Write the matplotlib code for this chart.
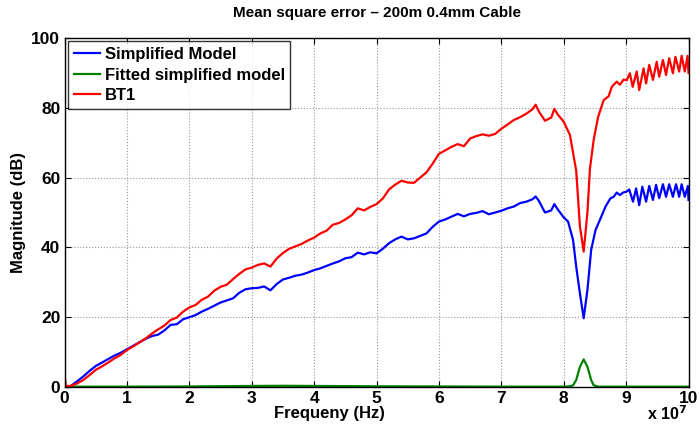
import numpy as np
import matplotlib.pyplot as plt

plt.rcParams['font.family'] = ['Liberation Sans', 'DejaVu Sans']
plt.rcParams['font.weight'] = 'bold'

# frequency in units of 1e7 Hz, magnitude in dB
x_simpl = [0, 0.05, 0.1, 0.2, 0.3, 0.4, 0.5, 0.6, 0.7, 0.8, 0.9,
           1.0, 1.1, 1.2, 1.3, 1.4, 1.5, 1.6, 1.7, 1.8, 1.9,
           2.0, 2.1, 2.2, 2.3, 2.4, 2.5, 2.6, 2.7, 2.8, 2.9,
           3.0, 3.1, 3.2, 3.3, 3.4, 3.5, 3.6, 3.7, 3.8, 3.9,
           4.0, 4.1, 4.2, 4.3, 4.4, 4.5, 4.6, 4.7, 4.8, 4.9,
           5.0, 5.1, 5.2, 5.3, 5.4, 5.5, 5.6, 5.7, 5.8, 5.9,
           6.0, 6.1, 6.2, 6.3, 6.4, 6.5, 6.6, 6.7, 6.8, 6.9,
           7.0, 7.1, 7.2, 7.3, 7.4, 7.5, 7.55, 7.6, 7.7, 7.8, 7.85, 7.9,
           8.0, 8.07, 8.15, 8.2, 8.26, 8.32, 8.38, 8.44, 8.51, 8.59, 8.67,
           8.75, 8.8, 8.85, 8.9, 8.95, 9.01,
           9.05, 9.11, 9.16, 9.21, 9.26, 9.32, 9.37, 9.43, 9.48, 9.53,
           9.59, 9.64, 9.69, 9.75, 9.80, 9.85, 9.89, 9.94, 9.99, 10.0]
y_simpl = [0.2, 0.0, 0.3, 1.6, 3.0, 4.6, 6.0, 7.0, 8.0, 9.0, 9.8,
           10.8, 11.8, 12.8, 13.8, 14.6, 15.0, 16.2, 17.8, 18.0, 19.4,
           20.0, 20.6, 21.6, 22.4, 23.3, 24.2, 24.8, 25.4, 27.0, 28.0,
           28.3, 28.4, 28.8, 27.7, 29.5, 30.8, 31.3, 31.9, 32.2, 32.8,
           33.5, 34.0, 34.7, 35.4, 36.0, 36.9, 37.2, 38.5, 38.0, 38.6,
           38.3, 39.6, 41.2, 42.3, 43.1, 42.3, 42.6, 43.3, 44.0, 45.9,
           47.4, 48.0, 48.8, 49.6, 48.9, 49.6, 49.9, 50.4, 49.5, 50.0,
           50.5, 51.2, 51.7, 52.7, 53.1, 53.8, 54.6, 53.4, 50.0, 50.6, 52.4, 51.0,
           48.6, 47.4, 42.1, 34.5, 26.8, 19.7, 27.8, 39.3, 45.0, 48.3, 51.7,
           54.1, 54.5, 55.7, 55.0, 55.7, 56.0,
           56.6, 53.1, 56.9, 52.1, 57.4, 53.1, 57.6, 53.6, 57.9, 54.1,
           58.1, 54.5, 58.1, 54.5, 58.1, 54.5, 58.1, 54.5, 57.6, 53.6]

x_fit = [0, 1, 2, 3, 3.5, 4, 5, 6, 7, 8, 8.1, 8.15, 8.2, 8.26, 8.32,
         8.38, 8.44, 8.48, 8.55, 9, 10]
y_fit = [0.1, 0.1, 0.15, 0.3, 0.35, 0.3, 0.2, 0.15, 0.1, 0.1, 0.2, 0.5,
         2.0, 5.8, 7.9, 5.8, 2.0, 0.5, 0.1, 0.1, 0.1]

x_bt1 = [0, 0.02, 0.1, 0.2, 0.3, 0.4, 0.5, 0.6, 0.7, 0.8, 0.9,
         1.0, 1.1, 1.2, 1.3, 1.4, 1.5, 1.6, 1.7, 1.8, 1.9,
         2.0, 2.1, 2.2, 2.3, 2.4, 2.5, 2.6, 2.7, 2.8, 2.9,
         3.0, 3.1, 3.2, 3.3, 3.4, 3.5, 3.6, 3.7, 3.8, 3.9,
         4.0, 4.1, 4.2, 4.3, 4.4, 4.5, 4.6, 4.7, 4.8, 4.9,
         5.0, 5.1, 5.2, 5.3, 5.4, 5.5, 5.6, 5.7, 5.8, 5.9,
         6.0, 6.1, 6.2, 6.3, 6.4, 6.5, 6.6, 6.7, 6.8, 6.9,
         7.0, 7.1, 7.2, 7.3, 7.4, 7.5, 7.55, 7.6, 7.7, 7.8, 7.85, 7.9,
         8.0, 8.1, 8.2, 8.26, 8.32, 8.38, 8.42, 8.48, 8.55, 8.64, 8.72,
         8.77, 8.85, 8.9, 8.96, 9.01,
         9.06, 9.105, 9.17, 9.21, 9.28, 9.32, 9.37, 9.43, 9.49, 9.53,
         9.59, 9.64, 9.69, 9.75, 9.79, 9.85, 9.89, 9.94, 9.985, 10.0]
y_bt1 = [4.0, 0.3, 0.3, 1.0, 2.0, 3.4, 4.9, 5.9, 7.0, 8.2, 9.2,
         10.6, 11.6, 12.8, 13.9, 15.3, 16.5, 17.6, 19.2, 19.9, 21.6,
         22.8, 23.5, 25.0, 25.9, 27.6, 28.7, 29.3, 30.9, 32.4, 33.7,
         34.2, 35.0, 35.4, 34.5, 36.8, 38.4, 39.6, 40.3, 41.0, 42.0,
         42.8, 44.0, 44.8, 46.5, 47.0, 48.0, 49.2, 51.2, 50.6, 51.6,
         52.4, 54.0, 56.6, 58.0, 59.1, 58.6, 58.5, 60.0, 61.5, 64.0,
         66.8, 67.8, 68.8, 69.6, 69.0, 71.2, 71.9, 72.4, 72.0, 72.5,
         74.0, 75.2, 76.5, 77.3, 78.3, 79.6, 80.9, 79.0, 76.3, 77.2, 79.7, 78.2,
         76.0, 72.2, 62.0, 46.0, 38.8, 50.0, 62.5, 70.8, 77.3, 82.2, 83.3,
         86.0, 87.5, 86.6, 88.1, 87.9,
         89.9, 86.0, 90.4, 85.1, 91.3, 87.0, 92.3, 88.0, 93.2, 88.9,
         93.7, 89.4, 94.2, 89.9, 94.6, 90.4, 94.9, 90.4, 94.9, 90.0]

fig = plt.figure(figsize=(6.99, 4.30), dpi=100)
ax = fig.add_axes([0.0923, 0.1, 0.8927, 0.8116])

ax.plot(x_simpl, y_simpl, color='#0000ff', lw=1.6, label='Simplified Model')
ax.plot(x_fit, y_fit, color='#008000', lw=1.6, label='Fitted simplified model')
ax.plot(x_bt1, y_bt1, color='#ff0000', lw=1.6, label='BT1')

ax.set_xlim(0, 10)
ax.set_ylim(0, 100)
ax.set_xticks(range(0, 11))
ax.set_yticks(range(0, 101, 20))
ax.grid(True, linestyle=':', color='#999999', lw=0.8)
ax.tick_params(direction='in', top=True, right=True, labelsize=12.5,
               length=4, width=0.8, pad=3)
for s in ax.spines.values():
    s.set_linewidth(1.0)

ax.set_title('Mean square error \u2013 200m 0.4mm Cable', fontsize=11,
             fontweight='bold', pad=15)
ax.set_xlabel('Frequeny (Hz)', fontsize=12, fontweight='bold', labelpad=-1)
ax.xaxis.set_label_coords(0.425, -0.055)
ax.set_ylabel('Magnitude (dB)', fontsize=12, fontweight='bold', labelpad=4)
fig.text(0.955, 0.037, 'x 10$^{\\mathbf{7}}$', fontsize=11.5, fontweight='bold',
         ha='center', va='center')

leg = ax.legend(loc='upper left', fontsize=12, frameon=True, fancybox=False,
                borderaxespad=0.2, handlelength=1.6, handletextpad=0.25,
                labelspacing=0.33, borderpad=0.35)
leg.get_frame().set_edgecolor('black')
leg.get_frame().set_linewidth(1.0)
for t in leg.get_texts():
    t.set_fontweight('bold')

fig.savefig('out.png', dpi=100)
